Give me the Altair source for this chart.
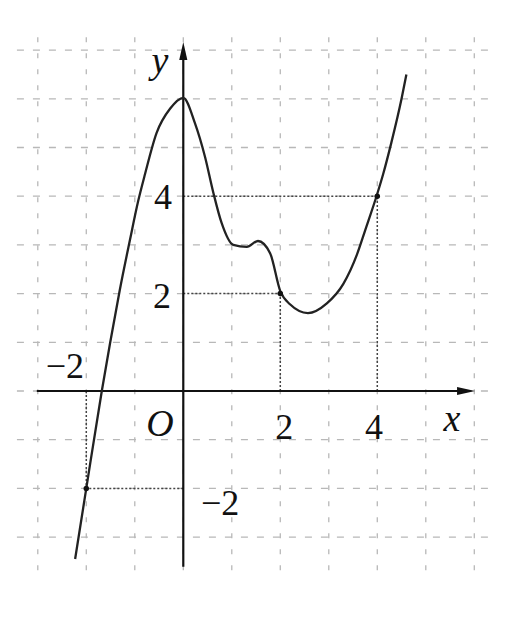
import altair as alt
import pandas as pd

# Curve points
curve_x = [-2.23, -2.0, -1.68, -1.51, -1.31, -1.1, -0.93, -0.79, -0.55, -0.27, 0.0, 0.24, 0.45, 0.62, 0.79, 1.03, 1.31, 1.54, 1.79, 2.0, 2.2, 2.57, 2.96, 3.3, 3.58, 3.75, 4.0, 4.12, 4.29, 4.5, 4.6]
curve_y = [-3.45, -2.0, 0.0, 0.98, 2.07, 3.1, 3.9, 4.45, 5.3, 5.8, 6.02, 5.5, 4.8, 4.07, 3.45, 3.0, 2.96, 3.08, 2.83, 2.05, 1.78, 1.6, 1.8, 2.2, 2.8, 3.3, 4.05, 4.45, 5.1, 6.0, 6.5]

# Grid
grid_x = [-3, -2, -1, 0, 1, 2, 3, 4, 5, 6]
grid_y = [-3, -2, -1, 0, 1, 2, 3, 4, 5, 6, 7]

# Marked points
mark_x = [-2, 2, 4]
mark_y = [-2, 2, 4]

# Labels
label_text = ["−2", "2", "4", "4", "2", "−2"]
label_x = [-2.44, 2.08, 3.93, -0.42, -0.44, 0.76]
label_y = [0.49, -0.76, -0.76, 3.96, 1.93, -2.32]

ital_text = ["y", "x", "O"]
ital_x = [-0.48, 5.54, -0.48]
ital_y = [6.76, -0.6, -0.7]

XMIN, XMAX = -3.614, 6.798
YMIN, YMAX = -4.456, 7.864
xs = alt.Scale(domain=[XMIN, XMAX], nice=False, zero=False)
ys = alt.Scale(domain=[YMIN, YMAX], nice=False, zero=False)

def X(f="x"):
    return alt.X(f"{f}:Q", scale=xs, axis=None)

def Y(f="y"):
    return alt.Y(f"{f}:Q", scale=ys, axis=None)

grid_color = "#b8b8b8"
hgrid = alt.Chart(pd.DataFrame({"y": grid_y, "x": -3.43, "x2": 6.45})).mark_rule(
    color=grid_color, strokeWidth=1.3, strokeDash=[7, 9]
).encode(x=X(), x2="x2:Q", y=Y())

vgrid = alt.Chart(pd.DataFrame({"x": grid_x, "y": -3.68, "y2": 7.42})).mark_rule(
    color=grid_color, strokeWidth=1.3, strokeDash=[5, 11]
).encode(x=X(), y=Y(), y2="y2:Q")

# Dotted guide lines
vguide = alt.Chart(pd.DataFrame({"x": mark_x, "y": [0] * 3, "y2": mark_y})).mark_rule(
    color="#444", strokeWidth=1.5, strokeDash=[2, 2]
).encode(x=X(), y=Y(), y2="y2:Q")
hguide = alt.Chart(pd.DataFrame({"y": mark_y, "x": [0] * 3, "x2": mark_x})).mark_rule(
    color="#444", strokeWidth=1.5, strokeDash=[2, 2]
).encode(x=X(), x2="x2:Q", y=Y())

# Axes
xaxis = alt.Chart(pd.DataFrame({"x": [-3.02], "x2": [5.9], "y": [0]})).mark_rule(
    color="#111", strokeWidth=2.2
).encode(x=X(), x2="x2:Q", y=Y())
yaxis = alt.Chart(pd.DataFrame({"x": [0], "y": [-3.61], "y2": [7.0]})).mark_rule(
    color="#111", strokeWidth=2.2
).encode(x=X(), y=Y(), y2="y2:Q")

arrow_up = alt.Chart(pd.DataFrame({"x": [0], "y": [6.98]})).mark_point(
    shape="M0,-1 L0.45,1 L-0.45,1 Z", filled=True, color="#111", size=324, opacity=1
).encode(x=X(), y=Y())
arrow_right = alt.Chart(pd.DataFrame({"x": [5.83], "y": [0]})).mark_point(
    shape="M1,0 L-1,-0.45 L-1,0.45 Z", filled=True, color="#111", size=324, opacity=1
).encode(x=X(), y=Y())

curve = alt.Chart(pd.DataFrame({"x": curve_x, "y": curve_y})).mark_line(
    color="#222", strokeWidth=2.3, interpolate="monotone"
).encode(x=X(), y=Y(), order="x:Q")

dots = alt.Chart(pd.DataFrame({"x": mark_x, "y": mark_y})).mark_point(
    filled=True, color="#111", size=30, opacity=1
).encode(x=X(), y=Y())

labels = alt.Chart(pd.DataFrame({"t": label_text, "x": label_x, "y": label_y})).mark_text(
    font="Liberation Serif", fontSize=36, color="#111", align="center", baseline="middle"
).encode(x=X(), y=Y(), text="t:N")

ital = alt.Chart(pd.DataFrame({"t": ital_text, "x": ital_x, "y": ital_y})).mark_text(
    font="Liberation Serif", fontSize=38, fontStyle="italic", color="#111", align="center", baseline="middle"
).encode(x=X(), y=Y(), text="t:N")

chart = alt.layer(
    hgrid, vgrid, vguide, hguide, xaxis, yaxis, arrow_up, arrow_right, curve, dots, labels, ital
).properties(
    width=505, height=600, autosize=alt.AutoSizeParams(type="none"), padding=0
).configure_view(stroke=None)

chart.save("out.html", embed_options={"renderer": "svg", "actions": False})
